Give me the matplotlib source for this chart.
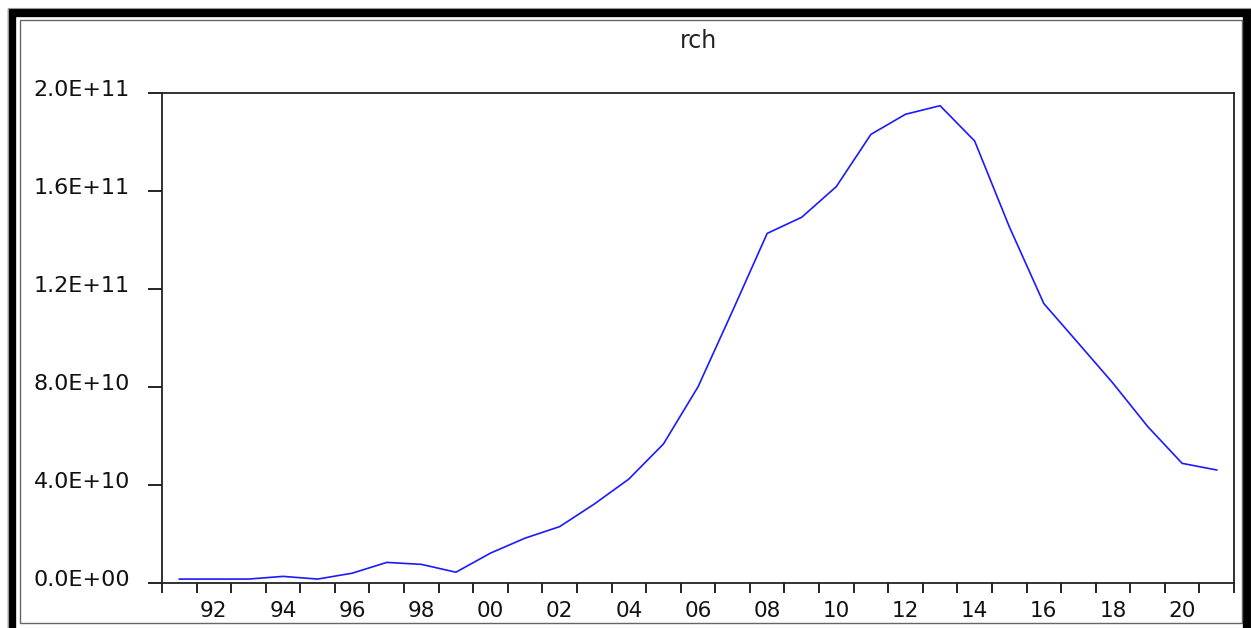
import numpy as np
import matplotlib
matplotlib.use('Agg')
import matplotlib.pyplot as plt
from matplotlib.patches import Rectangle
from matplotlib.ticker import FixedLocator, FuncFormatter
import matplotlib.transforms as mtransforms

# annual series, 1991-2021
years = np.arange(1991, 2022)
rch = [1.6e9, 1.6e9, 1.6e9, 2.7e9, 1.6e9, 4.0e9, 8.4e9, 7.6e9, 4.4e9, 12.2e9,
       18.3e9, 23.0e9, 32.2e9, 42.4e9, 56.7e9, 80.0e9, 111.0e9, 142.6e9, 149.2e9, 161.7e9,
       183.0e9, 191.2e9, 194.7e9, 180.3e9, 145.4e9, 114.0e9, 97.8e9, 81.5e9, 63.9e9, 48.8e9,
       46.1e9]
y_ticks = [0, 4e10, 8e10, 1.2e11, 1.6e11, 2.0e11]

W, H = 1251, 628
plt.rcParams['font.family'] = ['DejaVu Sans']

fig = plt.figure(figsize=(W / 100, H / 100), dpi=100)
fig.patch.set_facecolor('white')

def fx(x):
    return x / W

def fy(y):
    return 1 - y / H

ax = fig.add_axes([fx(162), fy(583), fx(1234) - fx(162), fy(92.7) - fy(583)])

# each year sits in the middle of its own interval
ax.plot(years + 0.5, rch, color='#1a1aff', lw=1.2)

ax.set_xlim(years[0], years[-1] + 1)
ax.set_ylim(0, 2.0e11)

ax.xaxis.set_major_locator(FixedLocator(np.arange(years[0], years[-1] + 2)))
ax.xaxis.set_major_formatter(FuncFormatter(lambda v, p: ''))
even = [y for y in years if y % 2 == 0]
ax.xaxis.set_minor_locator(FixedLocator([y + 0.5 for y in even]))
ax.xaxis.set_minor_formatter(FuncFormatter(lambda v, p: '%02d' % (int(v) % 100)))
ax.tick_params(axis='x', which='major', direction='out', length=7, width=1.2, color='black')
ax.tick_params(axis='x', which='minor', length=0, pad=13, labelsize=15.5, labelcolor='#111111')

ax.set_yticks(y_ticks)
ax.yaxis.set_major_formatter(FuncFormatter(lambda v, p: '%.1E' % v))
ax.tick_params(axis='y', direction='out', length=10, width=1.2, color='black', pad=13,
               labelsize=16, labelcolor='#111111')
shift = mtransforms.ScaledTranslation(0, 5 / 100, fig.dpi_scale_trans)
for lab in ax.get_yticklabels():
    lab.set_transform(lab.get_transform() + shift)

for sp in ax.spines.values():
    sp.set_linewidth(1.3)
    sp.set_color('#222222')

ax.set_title('rch', fontsize=17, pad=32, color='#222222')

# window frame
fig.add_artist(Rectangle((fx(12.5), fy(640)), fx(1247) - fx(12.5), fy(13) - fy(640),
                         transform=fig.transFigure, fill=False, edgecolor='black',
                         lw=6.0, clip_on=False))
fig.add_artist(Rectangle((fx(19.5), fy(622.5)), fx(1241.5) - fx(19.5), fy(20) - fy(622.5),
                         transform=fig.transFigure, fill=False, edgecolor='#666666',
                         lw=1.0, clip_on=False))
fig.add_artist(Rectangle((fx(7.5), fy(640)), fx(1251) - fx(7.5), fy(8) - fy(640),
                         transform=fig.transFigure, fill=False, edgecolor='#999999',
                         lw=0.8, clip_on=False))

fig.savefig('out.png', dpi=100)
